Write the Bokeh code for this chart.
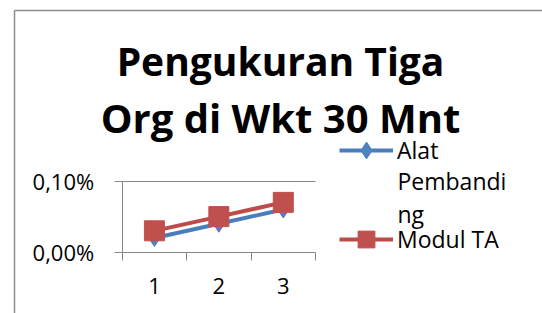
from bokeh.plotting import figure
from bokeh.models import (Range1d, FixedTicker, LinearAxis, CustomJSTickFormatter,
                          Legend, LegendItem, Label)
from bokeh.embed import file_html
from bokeh.resources import INLINE

# ---- data ----
categories = [1, 2, 3]
category_labels = ["1", "2", "3"]
alat_pembanding = [0.0002, 0.0004, 0.0006]
modul_ta = [0.0003, 0.0005, 0.0007]
y_ticks = [0.0, 0.001]
series_names = ["Alat", "Modul TA"]
legend_wrap = ["Pembandi", "ng"]
title_lines = ["Pengukuran Tiga", "Org di Wkt 30 Mnt"]

# ---- layout constants (canvas pixels; screen y measured from the bottom) ----
W, H = 542, 313
PX0, PX1 = 121.7, 315.0          # canvas x of x=0.5 and x=3.5
PY0, PY1 = H - 251.7, H - 180.5  # canvas y (from bottom) of y=0 and y=0.001
XMIN, XMAX = 0.5, 3.5
YMIN, YMAX = 0.0, 0.001
xs = (PX1 - PX0) / (XMAX - XMIN)
ys_ = (PY1 - PY0) / (YMAX - YMIN)
X_LO = XMIN - PX0 / xs
X_HI = XMIN + (W - PX0) / xs
Y_LO = YMIN - PY0 / ys_
Y_HI = YMIN + (H - PY0) / ys_


def data_x(px):
    return X_LO + px / xs


def data_y(py_from_top):
    return Y_LO + (H - py_from_top) / ys_


FONT = "Open Sans"
GRAY = "#868686"
BORDER = "#8c8c8c"
BLUE = "#4A7EBB"
BLUE_M = "#4F81BD"
RED = "#BE4B48"
RED_M = "#C0504D"

p = figure(width=W, height=H, output_backend="svg", toolbar_location=None,
           x_range=Range1d(X_LO, X_HI), y_range=Range1d(Y_LO, Y_HI),
           x_axis_type=None, y_axis_type=None, min_border=0)
p.outline_line_color = None
p.title.visible = False
p.background_fill_color = "white"
p.border_fill_color = "white"


def rule(side, loc, bounds, color, width):
    ax = LinearAxis(ticker=FixedTicker(ticks=[]), fixed_location=loc, bounds=bounds)
    ax.axis_line_color = color
    ax.axis_line_width = width
    ax.major_tick_line_color = None
    ax.minor_tick_line_color = None
    p.add_layout(ax, side)


# chart-area border (left and top edges)
rule("left", data_x(13.5), (Y_LO, data_y(9.5)), BORDER, 1.5)
rule("above", data_y(9.5), (data_x(13.5), X_HI), BORDER, 1.5)

# y axis
yax = LinearAxis(ticker=FixedTicker(ticks=y_ticks), fixed_location=XMIN, bounds=(YMIN, YMAX),
                 formatter=CustomJSTickFormatter(code="return (tick*100).toFixed(2).replace('.', ',') + '%';"))
yax.axis_line_color = GRAY
yax.major_tick_line_color = GRAY
yax.major_tick_in = 0
yax.major_tick_out = 8
yax.minor_tick_line_color = None
yax.major_label_text_font = FONT
yax.major_label_text_font_size = "22px"
yax.major_label_text_color = "black"
yax.major_label_standoff = 20
p.add_layout(yax, "left")

# horizontal gridline at 0,10% (drawn as a bounded rule)
rule("above", YMAX, (XMIN, XMAX), GRAY, 1)

# x axis: tick marks between categories
xax = LinearAxis(ticker=FixedTicker(ticks=[0.5, 1.5, 2.5, 3.5]), fixed_location=YMIN,
                 bounds=(XMIN, XMAX),
                 major_label_overrides={0.5: "", 1.5: "", 2.5: "", 3.5: ""})
xax.axis_line_color = GRAY
xax.major_tick_line_color = GRAY
xax.major_tick_in = 0
xax.major_tick_out = 8
xax.minor_tick_line_color = None
p.add_layout(xax, "below")

# x axis: category labels
xlab = LinearAxis(ticker=FixedTicker(ticks=categories), fixed_location=YMIN, bounds=(XMIN, XMAX),
                  major_label_overrides={c: l for c, l in zip(categories, category_labels)})
xlab.axis_line_color = None
xlab.major_tick_line_color = None
xlab.minor_tick_line_color = None
xlab.major_label_text_font = FONT
xlab.major_label_text_font_size = "22px"
xlab.major_label_text_color = "black"
xlab.major_label_standoff = 20
p.add_layout(xlab, "below")

# ---- series ----
p.line(categories, alat_pembanding, line_color="white", line_width=7)
r1l = p.line(categories, alat_pembanding, line_color=BLUE, line_width=4)
r1m = p.scatter(categories, alat_pembanding, marker="diamond", size=17,
                fill_color=BLUE_M, line_color=BLUE_M)
p.line(categories, modul_ta, line_color="white", line_width=7)
r2l = p.line(categories, modul_ta, line_color=RED, line_width=4)
r2m = p.scatter(categories, modul_ta, marker="square", size=20,
                fill_color=RED_M, line_color=RED_M)

# ---- legend (location = bottom-left corner, relative to the frame) ----
legend = Legend(items=[LegendItem(label=series_names[0], renderers=[r1l, r1m]),
                       LegendItem(label=series_names[1], renderers=[r2l, r2m])],
                location=(339, H - 259.5), orientation="vertical",
                glyph_width=54, glyph_height=42, label_height=42, spacing=47,
                padding=0, margin=0, label_standoff=4,
                label_text_font=FONT, label_text_font_size="23px", label_text_color="black",
                border_line_color=None, background_fill_alpha=0)
p.add_layout(legend, "center")

for txt, yy in zip(legend_wrap, [H - 188.7 + 8.7, H - 222 + 8.7]):
    p.add_layout(Label(x=397, y=yy, x_units="screen", y_units="screen", text=txt,
                       text_font=FONT, text_font_size="23px", text_color="black",
                       text_baseline="alphabetic"))

for t, yy, fs in zip(title_lines, [H - 75 + 15, H - 131.7 + 15], ["39px", "40px"]):
    p.add_layout(Label(x=280, y=yy, x_units="screen", y_units="screen", text=t,
                       text_font=FONT, text_font_size=fs, text_font_style="bold",
                       text_color="black", text_align="center", text_baseline="alphabetic"))

open("out.html", "w").write(file_html(p, INLINE))
